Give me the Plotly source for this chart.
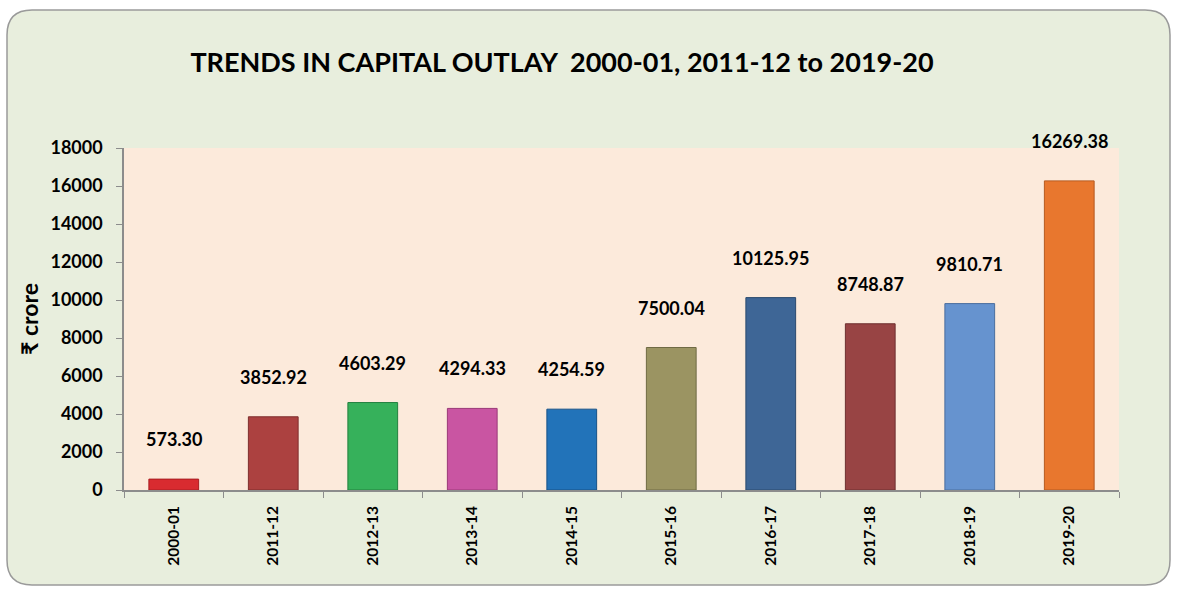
import plotly.graph_objects as go

categories = ["2000-01", "2011-12", "2012-13", "2013-14", "2014-15",
              "2015-16", "2016-17", "2017-18", "2018-19", "2019-20"]
values = [573.30, 3852.92, 4603.29, 4294.33, 4254.59,
          7500.04, 10125.95, 8748.87, 9810.71, 16269.38]
bar_colors = ["#D92B30", "#AC4140", "#36B15B", "#C955A2", "#2273B9",
              "#9B9462", "#3E6696", "#984444", "#6693CF", "#E8772E"]
line_colors = ["#A81E22", "#7E2E2D", "#23803F", "#9A3A78", "#175387",
               "#6F6A44", "#2B4A6E", "#6E3030", "#4A6E9E", "#B55A20"]
y_ticks = [0, 2000, 4000, 6000, 8000, 10000, 12000, 14000, 16000, 18000]

W, H = 1177, 592
L, R, T, B = 124, 1119, 148, 490
FONT = "Lato, 'Noto Sans', 'DejaVu Sans', sans-serif"


def px(x):
    return (x - L) / (R - L)


def py(y):
    return (B - y) / (B - T)


def rounded_rect(x0, y0, x1, y1, r):
    rx = r / (R - L)
    ry = r / (B - T)
    X0, X1 = px(x0), px(x1)
    Y0, Y1 = py(y0), py(y1)  # Y0 top, Y1 bottom
    return (f"M {X0 + rx},{Y0} L {X1 - rx},{Y0} Q {X1},{Y0} {X1},{Y0 - ry} "
            f"L {X1},{Y1 + ry} Q {X1},{Y1} {X1 - rx},{Y1} "
            f"L {X0 + rx},{Y1} Q {X0},{Y1} {X0},{Y1 + ry} "
            f"L {X0},{Y0 - ry} Q {X0},{Y0} {X0 + rx},{Y0} Z")


fig = go.Figure()
fig.add_trace(go.Bar(
    x=categories, y=values,
    marker=dict(color=bar_colors, line=dict(color=line_colors, width=1)),
    width=0.5, hoverinfo="x+y",
))

for c, v in zip(categories, values):
    fig.add_annotation(x=c, y=v, text=f"{v:.2f}", showarrow=False,
                       yshift=40, font=dict(family=FONT, size=18, color="black",
                                            weight="bold"))

shapes = [
    dict(type="path", xref="paper", yref="paper", layer="below",
         path=rounded_rect(7, 10, 1170, 585, 25),
         fillcolor="#E8EEDD", line=dict(color="#9A9A9A", width=1.5)),
    dict(type="rect", xref="paper", yref="paper", layer="below",
         x0=0, x1=1, y0=0, y1=1, fillcolor="#FCEADB", line=dict(width=0)),
]

fig.update_layout(
    width=W, height=H,
    margin=dict(l=L, r=W - R, t=T, b=H - B, pad=0),
    paper_bgcolor="white",
    plot_bgcolor="rgba(0,0,0,0)",
    shapes=shapes,
    showlegend=False,
    bargap=0.5,
    title=dict(text="TRENDS IN CAPITAL OUTLAY  2000-01, 2011-12 to 2019-20",
               x=562 / W, xanchor="center", y=1 - 63 / H, yanchor="middle",
               font=dict(family=FONT, size=27, color="black", weight="bold")),
    xaxis=dict(
        type="category", tickangle=-90, showgrid=False,
        showline=True, linecolor="#8C8C8C", linewidth=1.5,
        ticks="outside", tickson="boundaries", ticklen=6, tickcolor="#8C8C8C",
        tickfont=dict(family=FONT, size=15.5, color="black", weight="bold"),
        ticklabelstandoff=8,
    ),
    yaxis=dict(
        range=[0, 18000], tickvals=y_ticks, tickformat="d",
        showgrid=False, zeroline=False,
        showline=True, linecolor="#8C8C8C", linewidth=1.5,
        ticks="outside", ticklen=6, tickcolor="#8C8C8C",
        tickfont=dict(family=FONT, size=18, color="black", weight="bold"),
        ticklabelstandoff=10,
        title=dict(text="₹ crore", standoff=5,
                   font=dict(family=FONT, size=23, color="black", weight="bold")),
    ),
)

fig.write_html("out.html", config={"displayModeBar": False},
               post_script="document.body.style.margin='0';document.body.style.overflow='hidden';")
